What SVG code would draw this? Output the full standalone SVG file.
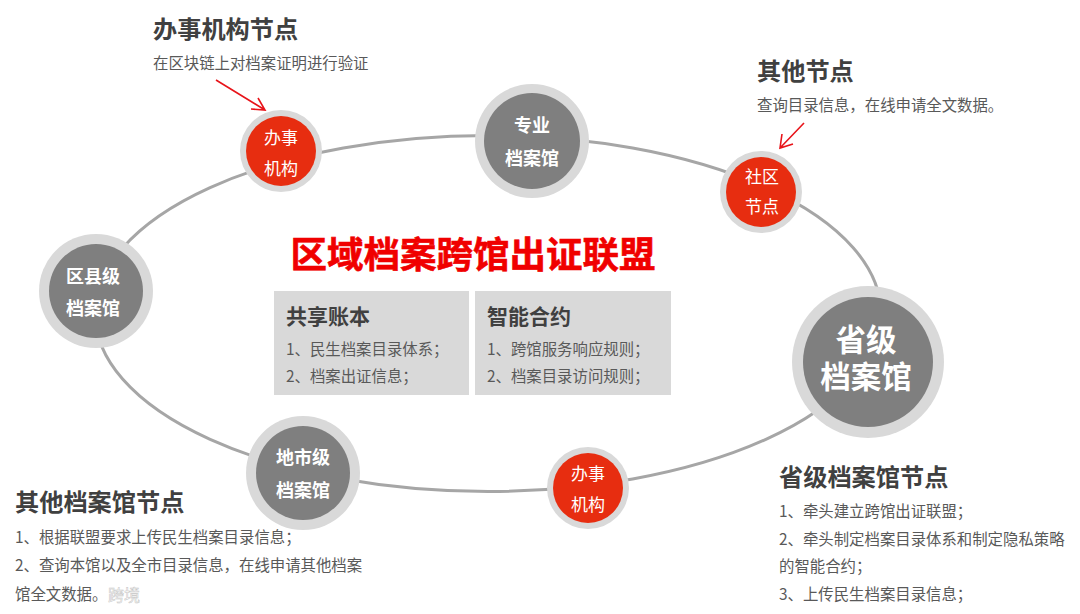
<svg xmlns="http://www.w3.org/2000/svg" width="1080" height="614" viewBox="0 0 1080 614">
<style>
text{font-family:"Noto Sans CJK SC","Noto Sans",sans-serif}
.h{font-size:24.2px;font-weight:700;fill:#404040}
.h2{font-size:21px;font-weight:700;fill:#404040}
.b{font-size:15.4px;fill:#595959}
.w{fill:#fff;text-anchor:middle}
.gw{font-size:18px;font-weight:700}
.rw{font-size:17px}
.halo{fill:#d9d9d9}
.g{fill:#7f7f7f}
.r{fill:#e72d10}
.panel{fill:#d9d9d9}
.arr{fill:none;stroke:#e8141a;stroke-width:1.6}
</style>
<rect width="1080" height="614" fill="#fff"/>
<g id="connectors">
<ellipse cx="488" cy="313.5" rx="393" ry="178" fill="none" stroke="#a6a6a6" stroke-width="3"/>
<path class="arr" d="M216 80L265 110M251 109L265 110L258 98"/>
<path class="arr" d="M804 123L780 148M782 134L780 148L793 144"/>
</g>
<g id="node-banshi-top"><circle class="halo" cx="281" cy="151" r="41"/><circle class="r" cx="281" cy="151" r="35"/><text class="w rw" x="281" y="144">办事</text><text class="w rw" x="281" y="175">机构</text></g>
<g id="node-zhuanye"><circle class="halo" cx="532" cy="141" r="57"/><circle class="g" cx="532" cy="141" r="48"/><text class="w gw" x="532" y="132">专业</text><text class="w gw" x="532" y="165">档案馆</text></g>
<g id="node-shequ"><circle class="halo" cx="761" cy="192" r="41"/><circle class="r" cx="761" cy="192" r="35"/><text class="w rw" x="762" y="183">社区</text><text class="w rw" x="762" y="213">节点</text></g>
<g id="node-quxian"><circle class="halo" cx="96" cy="291" r="57"/><circle class="g" cx="96" cy="291" r="47"/><text class="w gw" x="93" y="283">区县级</text><text class="w gw" x="93" y="315">档案馆</text></g>
<g id="node-shengji"><circle class="halo" cx="868" cy="362" r="76"/><circle class="g" cx="868" cy="362" r="65"/><text class="w" font-size="30.5" font-weight="700"><tspan x="866" y="351">省级</tspan><tspan x="866" y="388">档案馆</tspan></text></g>
<g id="node-dishi"><circle class="halo" cx="303" cy="473" r="57"/><circle class="g" cx="303" cy="473" r="47"/><text class="w gw" x="303" y="464">地市级</text><text class="w gw" x="303" y="497">档案馆</text></g>
<g id="node-banshi-bottom"><circle class="halo" cx="588" cy="488" r="41"/><circle class="r" cx="588" cy="488" r="35"/><text class="w rw" x="588" y="480">办事</text><text class="w rw" x="588" y="511">机构</text></g>
<g id="title"><text x="473" y="268" text-anchor="middle" font-size="36.5" font-weight="700" fill="#f00000" stroke="#f00000" stroke-width="0.6">区域档案跨馆出证联盟</text></g>
<g id="panel-ledger"><rect class="panel" x="274" y="291" width="195" height="104"/><text class="h2" x="286" y="324">共享账本</text><text class="b" x="286" y="355">1、民生档案目录体系；</text><text class="b" x="286" y="382">2、档案出证信息；</text></g>
<g id="panel-contract"><rect class="panel" x="475" y="291" width="196" height="104"/><text class="h2" x="487" y="324">智能合约</text><text class="b" x="487" y="355">1、跨馆服务响应规则；</text><text class="b" x="487" y="382">2、档案目录访问规则；</text></g>
<g id="note-banshi"><text class="h" x="153" y="38">办事机构节点</text><text class="b" x="153" y="69">在区块链上对档案证明进行验证</text></g>
<g id="note-other"><text class="h" x="757" y="80">其他节点</text><text class="b" x="757" y="111">查询目录信息，在线申请全文数据。</text></g>
<g id="note-archive"><text class="h" x="15" y="511">其他档案馆节点</text><text class="b" x="15" y="543">1、根据联盟要求上传民生档案目录信息；</text><text class="b" x="15" y="571">2、查询本馆以及全市目录信息，在线申请其他档案</text><text class="b" x="15" y="600">馆全文数据。</text></g>
<g id="note-province"><text class="h" x="779" y="486">省级档案馆节点</text><text class="b" x="779" y="517">1、牵头建立跨馆出证联盟；</text><text class="b" x="779" y="545">2、牵头制定档案目录体系和制定隐私策略</text><text class="b" x="779" y="572">的智能合约；</text><text class="b" x="779" y="600">3、上传民生档案目录信息；</text></g>
<g id="watermark"><text x="108" y="601" font-size="16" fill="#ffffff" stroke="#c4c4c4" stroke-width="0.5">跨境</text></g>
</svg>
